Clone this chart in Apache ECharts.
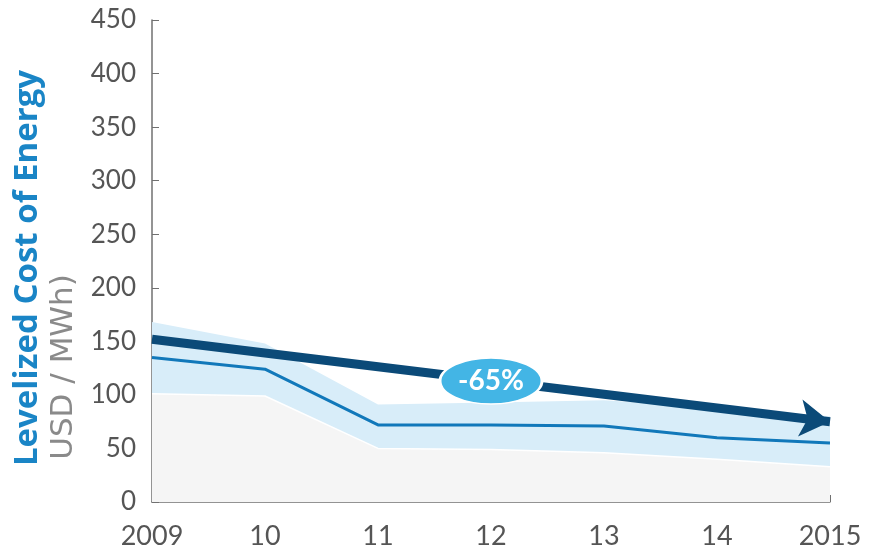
<!DOCTYPE html>
<html>
<head>
<meta charset="utf-8">
<script src="https://cdn.jsdelivr.net/npm/echarts@6/dist/echarts.min.js"></script>
<style>
  html, body { margin: 0; padding: 0; background: #fff; }
  #chart { width: 869px; height: 553px; }
</style>
</head>
<body>
<div id="chart"></div>
<script>
// categories (years)
var years = ['2009', '10', '11', '12', '13', '14', '2015'];
// LCOE range, USD / MWh
var lowBound  = [101, 99, 50, 49, 46, 40, 33];
var midValue  = [135, 124, 72, 72, 71, 60, 55];
var highBound = [168, 148, 91, 93, 95, 88, 80];
// trend arrow start / end
var trendStart = ['2009', 152];
var trendEnd   = ['2015', 75];
var trendLabel = '-65%';
var trendLabelPos = ['12', 113];

var bandWidth = highBound.map(function (v, i) { return v - lowBound[i]; });

var myChart = echarts.init(document.getElementById('chart'));
var axisGrey = '#707070';
var labelFont = 'Lato, "DejaVu Sans", sans-serif';
var titleFont = '"Open Sans", "DejaVu Sans", sans-serif';

myChart.setOption({
  animation: false,
  grid: { left: 152, right: 39, top: 20, bottom: 51 },
  xAxis: {
    type: 'category',
    data: years,
    boundaryGap: false,
    axisLine: { lineStyle: { color: axisGrey, width: 1.5 } },
    axisTick: { inside: true, length: 7, lineStyle: { color: axisGrey } },
    axisLabel: { color: '#555', fontSize: 27, fontFamily: labelFont, margin: 21 },
    splitLine: { show: false }
  },
  yAxis: {
    type: 'value',
    min: 0, max: 450, interval: 50,
    axisLine: { show: true, lineStyle: { color: axisGrey, width: 1.5 } },
    axisTick: { show: true, inside: true, length: 7, lineStyle: { color: axisGrey } },
    axisLabel: { color: '#555', fontSize: 26, fontFamily: labelFont, margin: 16 },
    splitLine: { show: false }
  },
  graphic: [
    {
      type: 'text', x: 28, y: 268, rotation: Math.PI / 2,
      style: {
        text: 'Levelized Cost of Energy', fill: '#1a85c6',
        font: 'bold 33px ' + titleFont, align: 'center', verticalAlign: 'middle'
      }
    },
    {
      type: 'text', x: 64, y: 367, rotation: Math.PI / 2,
      style: {
        text: 'USD / MWh)', fill: '#8a8a8a',
        font: '31px "DejaVu Sans", sans-serif', align: 'center', verticalAlign: 'middle'
      }
    }
  ],
  series: [
    {
      name: 'low', type: 'line', stack: 'range', data: lowBound,
      symbol: 'none',
      lineStyle: { color: '#fff', width: 1.5 },
      areaStyle: { color: '#f5f5f5', opacity: 1 },
      z: 1
    },
    {
      name: 'band', type: 'line', stack: 'range', data: bandWidth,
      symbol: 'none',
      lineStyle: { width: 0 },
      areaStyle: { color: '#d8edf9', opacity: 1 },
      z: 1
    },
    {
      name: 'mid', type: 'line', data: midValue,
      symbol: 'none',
      lineStyle: { color: '#1178ba', width: 3 },
      z: 2,
      markLine: {
        silent: true,
        symbol: ['none', 'arrow'],
        symbolSize: [28, 30],
        label: { show: false },
        lineStyle: { color: '#0b4a78', width: 9, type: 'solid' },
        data: [[{ coord: trendStart }, { coord: trendEnd }]]
      }
    },
    {
      name: 'tag', type: 'line', data: [],
      z: 5,
      markPoint: {
        silent: true,
        symbol: 'circle',
        symbolSize: [102, 46],
        itemStyle: { color: '#43b5e5', borderColor: '#fff', borderWidth: 2 },
        label: {
          show: true, formatter: trendLabel, color: '#fff',
          fontSize: 28, fontWeight: 'bold', fontFamily: labelFont
        },
        data: [{ coord: trendLabelPos }]
      }
    }
  ]
});
</script>
</body>
</html>
